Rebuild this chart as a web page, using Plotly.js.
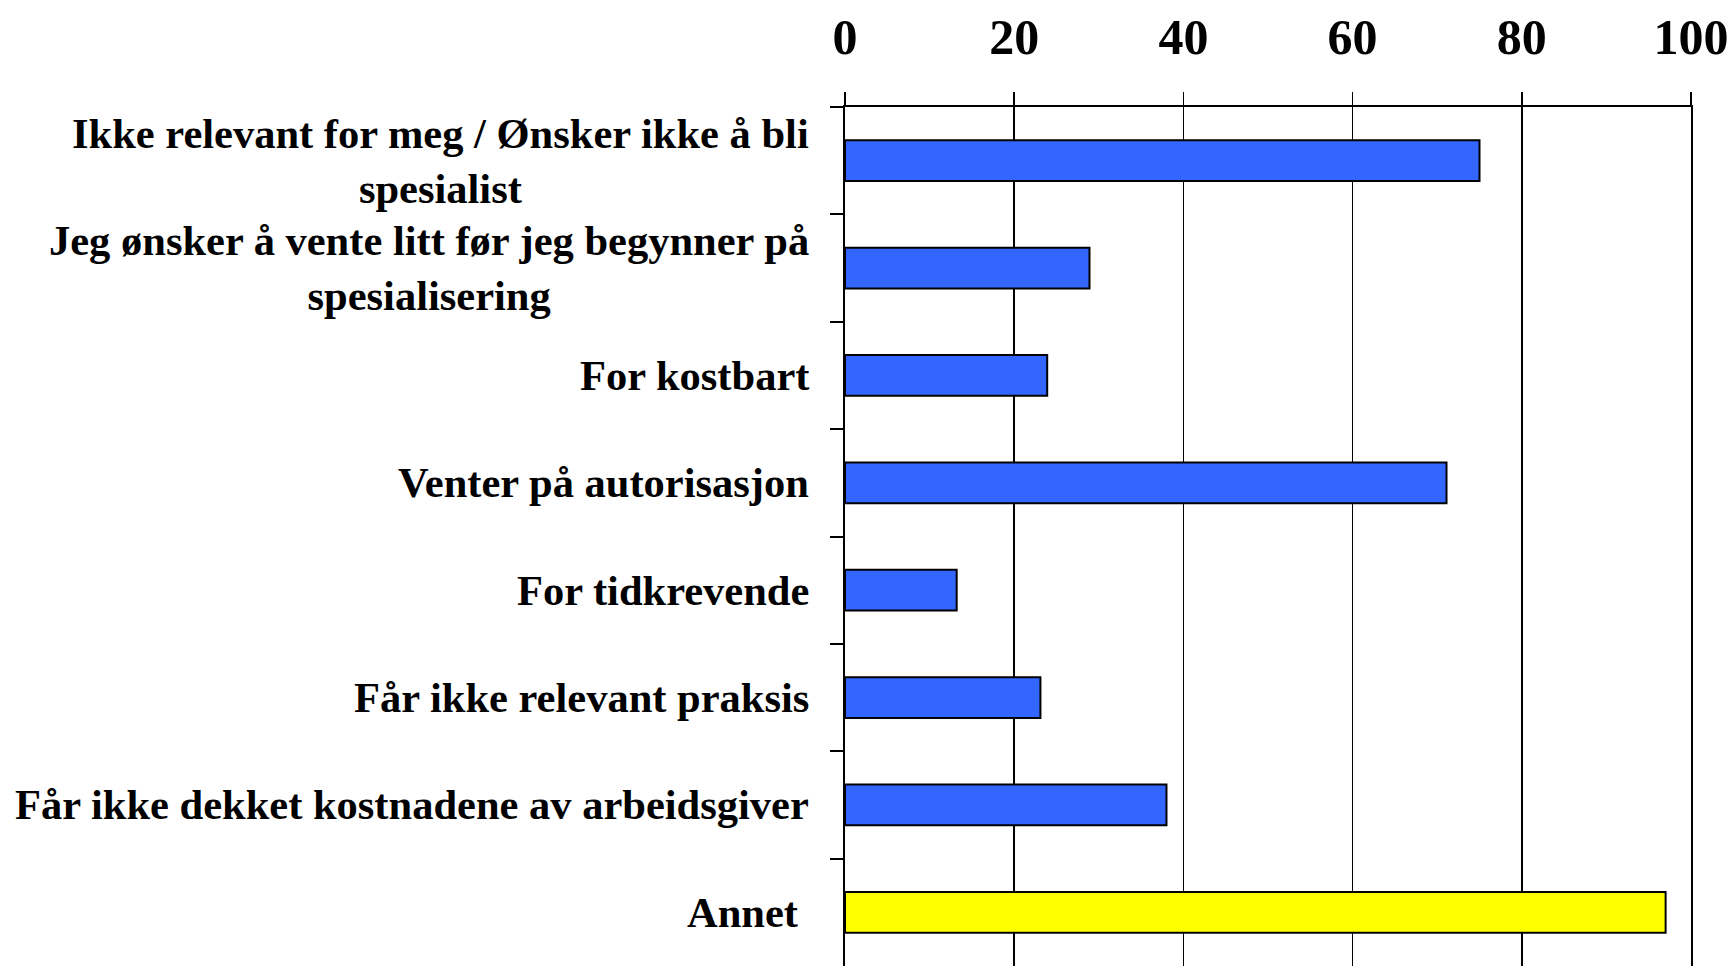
<!DOCTYPE html>
<html>
<head>
<meta charset="utf-8">
<script src="https://cdn.plot.ly/plotly-3.0.1.min.js"></script>
<style>html,body{margin:0;padding:0;background:#fff;}#chart{width:1733px;height:966px;}</style>
</head>
<body>
<div id="chart"></div>
<script>
const categories = [
  "Ikke relevant for meg / Ønsker ikke å bli<br>spesialist",
  "Jeg ønsker å vente litt før jeg begynner på<br>spesialisering",
  "For kostbart",
  "Venter på autorisasjon",
  "For tidkrevende",
  "Får ikke relevant praksis",
  "Får ikke dekket kostnadene av arbeidsgiver",
  "Annet "
];
const values = [75.0, 28.9, 23.9, 71.1, 13.2, 23.1, 38.0, 97.0];
const xTickValues = [0, 20, 40, 60, 80, 100];
const highlightCategory = "Annet ";

const FONT = "Liberation Serif, Times New Roman, serif";
const colors = categories.map(c => c === highlightCategory ? "#FFFF00" : "#3366FF");

const trace = {
  type: "bar",
  orientation: "h",
  y: categories,
  x: values,
  width: 0.38,
  marker: {color: colors, line: {color: "#000000", width: 2}},
  hoverinfo: "x+y"
};

const annotations = categories.map(c => ({
  xref: "paper", yref: "y",
  x: 0, y: c,
  xanchor: "right", yanchor: "middle",
  xshift: -34,
  align: "center",
  showarrow: false,
  text: c,
  font: {family: FONT, size: 42.5, color: "#000000", weight: "bold"}
}));

const layout = {
  width: 1733, height: 966,
  margin: {l: 845, r: 42, t: 107, b: 0, pad: 0},
  paper_bgcolor: "#ffffff",
  plot_bgcolor: "#ffffff",
  showlegend: false,
  bargap: 0.62,
  xaxis: {
    side: "top",
    range: [0, 100],
    tickvals: xTickValues,
    ticktext: xTickValues.map(String),
    showgrid: true, gridcolor: "#000000", gridwidth: 1.5,
    zeroline: false,
    showline: true, linecolor: "#000000", linewidth: 2,
    ticks: "outside", ticklen: 13, tickwidth: 1.5, tickcolor: "#000000",
    ticklabelstandoff: 18,
    tickfont: {family: FONT, size: 50, color: "#000000", weight: "bold"},
    fixedrange: true
  },
  yaxis: {
    type: "category",
    autorange: "reversed",
    showticklabels: false,
    showgrid: false,
    zeroline: false,
    showline: true, linecolor: "#000000", linewidth: 2,
    mirror: true,
    ticks: "outside", tickson: "boundaries", ticklen: 13, tickwidth: 2, tickcolor: "#000000",
    fixedrange: true
  },
  annotations: annotations
};

Plotly.newPlot("chart", [trace], layout, {displayModeBar: false, staticPlot: true});
</script>
</body>
</html>
